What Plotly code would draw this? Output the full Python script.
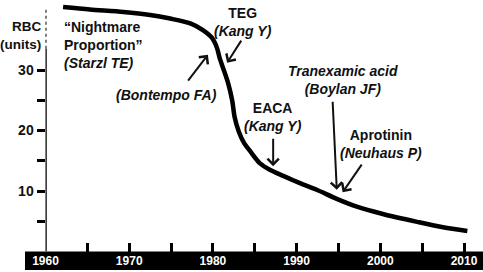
import plotly.graph_objects as go

# ---- data ----
years = [1962.1, 1965.3, 1969.3, 1972.5, 1974.9, 1977.3, 1978.8, 1979.9, 1980.5,
         1980.8, 1981.3, 1981.8, 1982.3, 1982.6, 1983.1, 1983.7, 1984.5, 1985.6,
         1986.8, 1988.4, 1990.4, 1992.4, 1994.8, 1997.2, 2000.3, 2004.4, 2007.5, 2010.4]
rbc_units = [40.4, 40.0, 39.6, 39.1, 38.5, 37.7, 36.6, 35.3, 33.6,
             32.0, 30.0, 27.9, 25.0, 22.2, 19.8, 18.0, 16.5, 14.6,
             13.5, 12.5, 11.3, 10.2, 8.7, 7.4, 6.2, 4.9, 4.0, 3.4]

x_tick_vals = [1960, 1965, 1970, 1975, 1980, 1985, 1990, 1995, 2000, 2005, 2010]
x_tick_text = ["1960", "", "1970", "", "1980", "", "1990", "", "2000", "", "2010"]
y_tick_vals = [5, 10, 15, 20, 25, 30]
y_tick_text = ["", "10", "", "20", "", "30"]

# annotation texts with (x, y) text centre
labels = [
    ("<b>\u201cNightmare<br>Proportion\u201d<br><i>(Starzl TE)</i></b>", 1962.0, 34.1, "left"),
    ("<b><i>(Bontempo FA)</i></b>", 1974.4, 25.9, "center"),
    ("<b>TEG<br><i>(Kang Y)</i></b>", 1983.65, 37.9, "center"),
    ("<b>EACA<br><i>(Kang Y)</i></b>", 1987.2, 22.2, "center"),
    ("<b><i>Tranexamic acid<br>(Boylan JF)</i></b>", 1995.5, 28.3, "center"),
    ("<b>Aprotinin<br><i>(Neuhaus P)</i></b>", 2000.1, 17.8, "center"),
]
arrows = [  # (head_x, head_y, tail_x, tail_y)
    (1979.4, 32.5, 1976.9, 28.0),
    (1981.7, 31.2, 1983.5, 35.1),
    (1987.2, 14.1, 1987.2, 18.9),
    (1994.8, 10.2, 1994.3, 25.0),
    (1995.5, 9.8, 1997.9, 14.6),
]

FONT = "Liberation Sans, Arial, sans-serif"
INK = "#111111"

fig = go.Figure()
fig.add_trace(go.Scatter(
    x=years, y=rbc_units, mode="lines",
    line=dict(color="black", width=4.5, shape="spline", smoothing=0.8),
    hoverinfo="skip", showlegend=False,
))

W, H = 483, 272
x_dom0 = 45.5 / W
y_dom0 = 20.5 / H

fig.update_layout(
    width=W, height=H,
    margin=dict(l=0, r=0, t=0, b=0),
    paper_bgcolor="white", plot_bgcolor="white",
    showlegend=False,
    font=dict(family=FONT, color=INK),
    xaxis=dict(
        domain=[x_dom0, 1], range=[1960, 1960 + (W - 45.5) / 8.37],
        showgrid=False, zeroline=False, showline=False,
        tickmode="array", tickvals=x_tick_vals, ticktext=x_tick_text,
        ticks="inside", ticklen=9, tickwidth=2.5, tickcolor="black",
        tickfont=dict(family=FONT, size=12, color="white", weight="bold"),
        automargin=False, fixedrange=True,
    ),
    yaxis=dict(
        domain=[y_dom0, 1], range=[0, 251.5 / 6.05],
        showgrid=False, zeroline=False, showline=False,
        tickmode="array", tickvals=y_tick_vals, ticktext=y_tick_text,
        ticks="outside", ticklen=8, tickwidth=2.5, tickcolor="black",
        tickfont=dict(family=FONT, size=14, color=INK, weight="bold"),
        automargin=False, fixedrange=True,
    ),
)

# black year band below the axis
fig.add_shape(type="rect", xref="paper", yref="paper",
              x0=25 / W, x1=1, y0=2 / H, y1=y_dom0,
              fillcolor="black", line=dict(width=0), layer="below")
# y-axis line: solid part and dotted top part
fig.add_shape(type="line", xref="x", yref="y", x0=1960, x1=1960, y0=0, y1=33.5,
              line=dict(color="black", width=2.5))
fig.add_shape(type="line", xref="x", yref="y", x0=1960, x1=1960, y0=33.5, y1=40.3,
              line=dict(color="black", width=2, dash="dot"))

for text, x, y, align in labels:
    fig.add_annotation(x=x, y=y, xref="x", yref="y", text=text, showarrow=False,
                       xanchor="left" if align == "left" else "center", yanchor="middle",
                       align=align, font=dict(family=FONT, size=14, color=INK))

for hx, hy, tx, ty in arrows:
    fig.add_annotation(x=hx, y=hy, ax=tx, ay=ty, xref="x", yref="y", axref="x", ayref="y",
                       text="", showarrow=True, arrowhead=4, arrowsize=1.1,
                       arrowwidth=2, arrowcolor=INK, standoff=0, startstandoff=0)

fig.add_annotation(x=43 / W, y=(H - 35) / H, xref="paper", yref="paper",
                   text="<b>RBC<br>(units)</b>", showarrow=False,
                   xanchor="right", yanchor="middle", align="right",
                   font=dict(family=FONT, size=13.5, color=INK))

fig.write_html("out.html")
